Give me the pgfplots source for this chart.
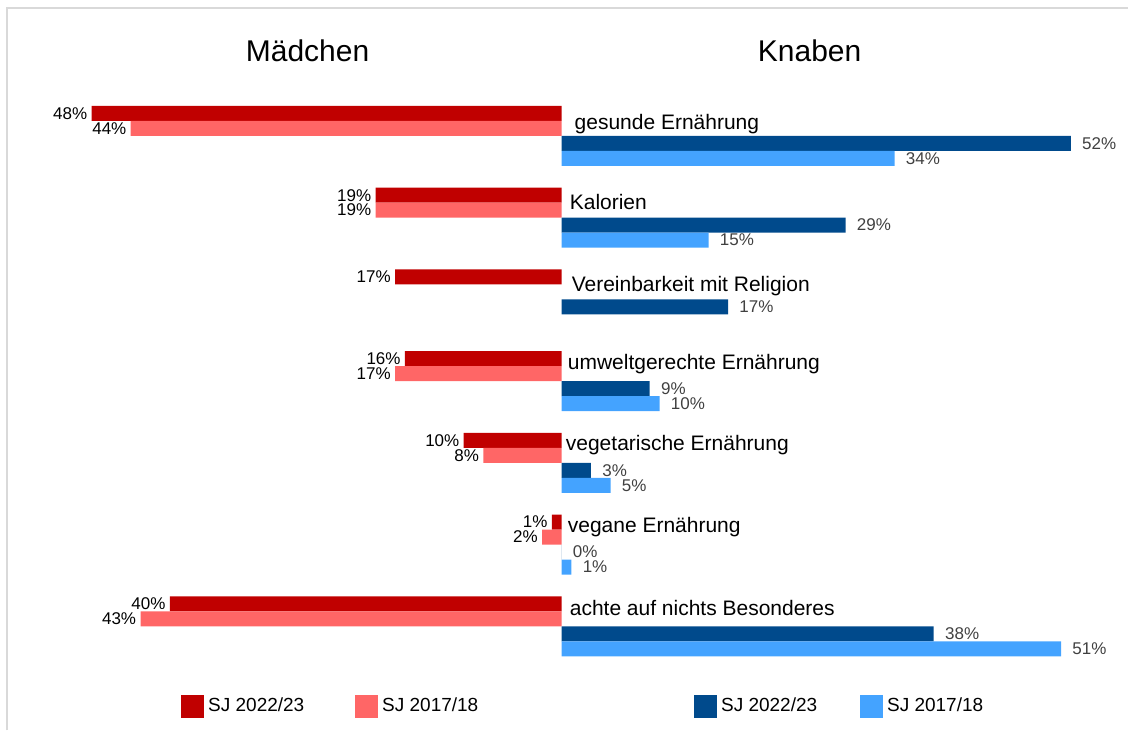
\documentclass[border=0pt]{standalone}
\usepackage{fontspec}
\setmainfont{Liberation Sans}
\usepackage{pgfplots}
\usepackage{pgfplotstable}
\pgfplotsset{compat=1.18}

\definecolor{mdark}{HTML}{C00000}
\definecolor{mlight}{HTML}{FF6666}
\definecolor{kdark}{HTML}{004A8C}
\definecolor{klight}{HTML}{44A3FF}
\definecolor{valgray}{HTML}{404040}
\definecolor{framegray}{HTML}{D9D9D9}

% k = Kategorie (0 = oben), Werte in Prozent
\pgfplotstableread{
k mneu kneu
0 48 52
1 19 29
2 17 17
3 16 9
4 10 3
5 1 0
6 40 38
}\neu
\pgfplotstableread{
k malt kalt
0 44 34
1 19 15
3 17 10
4 8 5
5 2 1
6 43 51
}\alt

\begin{document}
\begin{tikzpicture}
\begin{axis}[
    scale only axis,
    width=564.5pt, height=365.5pt,
    xmin=-57.347, xmax=57.857,
    ymin=-7.2738, ymax=1.6626,
    axis lines=none,
    clip=false,
    xbar, bar width=0.1834, bar shift=0pt,
    point meta=explicit,
    /pgf/number format/assume math mode=true,
    nodes near coords={\pgfmathprintnumber{\pgfplotspointmeta}\%},
    legend style={draw=none, fill=none, at={(0.1603,0.0328)}, anchor=west,
        inner sep=0pt, font=\fontsize{9.5}{11}\selectfont,
        nodes={inner sep=0pt},
        /tikz/every odd column/.style={column sep=2pt}},
    legend columns=-1,
    legend cell align=left,
    legend image code/.code={\fill[#1] (0pt,-6pt) rectangle (11.5pt,6pt);},
]
% Maedchen (nach links)
\addplot[fill=mdark, draw=none, forget plot,
    every node near coord/.append style={anchor=east, text=black, inner sep=2pt, font=\fontsize{8.5}{10}\selectfont}]
    table[x expr=-\thisrow{mneu}, y expr=-\thisrow{k}+0.275, meta=mneu] {\neu};
\addplot[fill=mlight, draw=none, forget plot,
    every node near coord/.append style={anchor=east, text=black, inner sep=2pt, font=\fontsize{8.5}{10}\selectfont}]
    table[x expr=-\thisrow{malt}, y expr=-\thisrow{k}+0.0917, meta=malt] {\alt};
% Knaben (nach rechts)
\addplot[fill=kdark, draw=none, forget plot,
    every node near coord/.append style={anchor=west, text=valgray, inner sep=2pt, xshift=3.5pt, font=\fontsize{8.5}{10}\selectfont}]
    table[x=kneu, y expr=-\thisrow{k}-0.0917, meta=kneu] {\neu};
\addplot[fill=klight, draw=none, forget plot,
    every node near coord/.append style={anchor=west, text=valgray, inner sep=2pt, xshift=3.5pt, font=\fontsize{8.5}{10}\selectfont}]
    table[x=kalt, y expr=-\thisrow{k}-0.275, meta=kalt] {\alt};

\addlegendimage{fill=mdark, draw=none}
\addlegendentry{SJ 2022/23\rule{25.5pt}{0pt}}
\addlegendimage{fill=mlight, draw=none}
\addlegendentry{SJ 2017/18\rule{108pt}{0pt}}
\addlegendimage{fill=kdark, draw=none}
\addlegendentry{SJ 2022/23\rule{21.5pt}{0pt}}
\addlegendimage{fill=klight, draw=none}
\addlegendentry{SJ 2017/18}

% Rahmen
\path (axis cs:-57.347,-7.2738) rectangle (axis cs:57.857,1.6626);
\draw[framegray, line width=0.8pt] (axis cs:-56.63,-7.2738) -- (axis cs:-56.63,1.5648) -- (axis cs:57.857,1.5648);

% Titel
\node[anchor=base, font=\fontsize{15}{18}\selectfont] at (axis cs:-25.94,0.905) {Mädchen};
\node[anchor=base, font=\fontsize{15}{18}\selectfont] at (axis cs:25.33,0.905) {Knaben};

% Kategorien
\begin{scope}[every node/.style={anchor=base west, inner sep=0pt, font=\fontsize{10.5}{12}\selectfont}]
\node at (axis cs:1.3,0.073) {gesunde Ernährung};
\node at (axis cs:0.8,-0.902) {Kalorien};
\node at (axis cs:1.0,-1.902) {Vereinbarkeit mit Religion};
\node at (axis cs:0.6,-2.853) {umweltgerechte Ernährung};
\node at (axis cs:0.4,-3.853) {vegetarische Ernährung};
\node at (axis cs:0.6,-4.853) {vegane Ernährung};
\node at (axis cs:0.8,-5.866) {achte auf nichts Besonderes};
\end{scope}
\end{axis}
\end{tikzpicture}
\end{document}
